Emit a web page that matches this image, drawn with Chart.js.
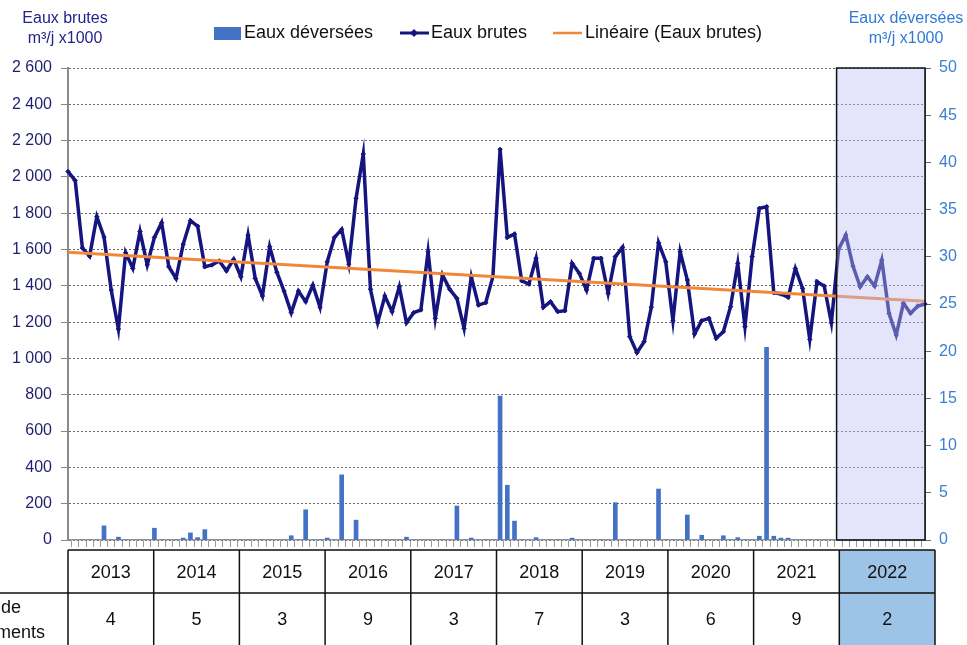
<!DOCTYPE html>
<html>
<head>
<meta charset="utf-8">
<script src="https://cdn.jsdelivr.net/npm/chart.js@4.4.1/dist/chart.umd.min.js"></script>
<style>
  html, body { margin: 0; padding: 0; background: #fff; }
  #wrap { width: 967px; height: 645px; position: relative; }
</style>
</head>
<body>
<div id="wrap"><canvas id="chart" width="967" height="645"></canvas></div>
<script>
// années du tableau + nombre de déversements par an
const years = ['2013', '2014', '2015', '2016', '2017', '2018', '2019', '2020', '2021', '2022'];
const nbDeversements = [4, 5, 3, 9, 3, 7, 3, 6, 9, 2];

// Eaux brutes, m3/j x1000 (un point par mois, jan 2013 -> dec 2022)
const eauxBrutes = [
  2030, 1980, 1608, 1564, 1781, 1669, 1377, 1162, 1583, 1496, 1700, 1515,
  1667, 1748, 1505, 1441, 1630, 1759, 1729, 1505, 1515, 1537, 1483, 1546,
  1450, 1680, 1441, 1344, 1616, 1475, 1371, 1252, 1371, 1313, 1404, 1282,
  1533, 1667, 1711, 1520, 1882, 2126, 1381, 1197, 1344, 1258, 1395, 1197,
  1252, 1267, 1588, 1221, 1460, 1381, 1331, 1166, 1450, 1294, 1307, 1450,
  2152, 1667, 1685, 1428, 1410, 1552, 1282, 1313, 1258, 1263, 1524, 1469,
  1377, 1552, 1552, 1359, 1561, 1612, 1120, 1032, 1092, 1282, 1638, 1533,
  1208, 1588, 1432, 1135, 1208, 1221, 1111, 1147, 1285, 1524, 1175, 1561,
  1827, 1836, 1362, 1355, 1337, 1496, 1386, 1105, 1423, 1399, 1197, 1601,
  1680, 1509, 1395, 1450, 1399, 1542, 1249, 1129, 1304, 1249, 1289, 1300
];

// Eaux déversées, m3/j x1000 (axe de droite)
const eauxDeversees = [
  0, 0, 0, 0, 0, 1.5, 0, 0.3, 0, 0, 0, 0,
  1.25, 0, 0, 0, 0.2, 0.75, 0.25, 1.1, 0, 0, 0, 0,
  0, 0, 0, 0, 0, 0, 0, 0.45, 0, 3.2, 0, 0,
  0.2, 0, 6.9, 0, 2.1, 0, 0, 0, 0, 0, 0, 0.3,
  0, 0, 0, 0, 0, 0, 3.6, 0, 0.2, 0, 0, 0,
  15.25, 5.8, 2.0, 0, 0, 0.25, 0, 0, 0, 0, 0.2, 0,
  0, 0, 0, 0, 3.95, 0, 0, 0, 0, 0, 5.4, 0,
  0, 0, 2.65, 0, 0.5, 0, 0, 0.45, 0, 0.25, 0, 0,
  0.4, 20.4, 0.4, 0.2, 0.2, 0, 0, 0, 0, 0, 0, 0,
  0, 0, 0, 0, 0, 0, 0, 0, 0, 0, 0, 0
];

// tendance linéaire (début / fin)
const trendStart = 1585;
const trendEnd = 1315;

const NAVY = '#15157f';
const BLUE_BAR = '#4472c4';
const ORANGE = '#f0883a';
const FONT = '"Liberation Sans", Arial, sans-serif';

const labels = [];
years.forEach(y => {
  for (let m = 1; m <= 12; m++) labels.push(y + '-' + String(m).padStart(2, '0'));
});
const trend = labels.map((_, i) => i === 0 ? trendStart : (i === labels.length - 1 ? trendEnd : null));

function fmtThousands(v) {
  if (v >= 1000) return Math.floor(v / 1000) + ' ' + String(v % 1000).padStart(3, '0');
  return String(v);
}

// cadre 2022, titres, légende et tableau du bas
const decor = {
  id: 'decor',
  afterDatasetsDraw(chart) {
    const { ctx, chartArea: a, scales: { x } } = chart;
    const x0 = x.getPixelForValue(107) - 2;
    ctx.save();
    ctx.fillStyle = 'rgba(190,190,245,0.42)';
    ctx.fillRect(x0, a.top, a.right - x0, a.bottom - a.top);
    ctx.strokeStyle = '#111';
    ctx.lineWidth = 1.5;
    ctx.strokeRect(x0, a.top, a.right - x0, a.bottom - a.top);
    ctx.restore();
  },
  afterDraw(chart) {
    const { ctx, chartArea: a } = chart;
    ctx.save();
    ctx.textBaseline = 'middle';

    // titres des axes
    ctx.font = '16px ' + FONT;
    ctx.textAlign = 'center';
    ctx.fillStyle = '#24248a';
    ctx.fillText('Eaux brutes', 65, 19);
    ctx.fillText('m³/j x1000', 65, 39);
    ctx.fillStyle = '#2f7bd4';
    ctx.fillText('Eaux déversées', 906, 19);
    ctx.fillText('m³/j x1000', 906, 39);

    // légende
    ctx.font = '18px ' + FONT;
    ctx.textAlign = 'left';
    ctx.fillStyle = BLUE_BAR;
    ctx.fillRect(214, 27, 27, 13);
    ctx.fillStyle = '#111';
    ctx.fillText('Eaux déversées', 244, 33);
    ctx.strokeStyle = NAVY;
    ctx.lineWidth = 3;
    ctx.beginPath(); ctx.moveTo(400, 33); ctx.lineTo(429, 33); ctx.stroke();
    ctx.fillStyle = NAVY;
    ctx.beginPath(); ctx.moveTo(414, 29); ctx.lineTo(418, 33); ctx.lineTo(414, 37); ctx.lineTo(410, 33); ctx.fill();
    ctx.fillStyle = '#111';
    ctx.fillText('Eaux brutes', 431, 33);
    ctx.strokeStyle = ORANGE;
    ctx.lineWidth = 2.5;
    ctx.beginPath(); ctx.moveTo(553, 33); ctx.lineTo(582, 33); ctx.stroke();
    ctx.fillText('Linéaire (Eaux brutes)', 585, 33);

    // tableau des années
    const top = 550, mid = 593, bot = 660;
    const colW = (a.right - a.left) / years.length;
    const last = years.length - 1;
    const edges = years.map((_, i) => a.left + i * colW);
    edges.push(a.right + 10);

    ctx.fillStyle = '#9dc3e6';
    ctx.fillRect(edges[last], top, edges[last + 1] - edges[last], bot - top);

    ctx.font = '18px ' + FONT;
    ctx.textAlign = 'center';
    ctx.fillStyle = '#111';
    years.forEach((y, i) => {
      const cx = (edges[i] + edges[i + 1]) / 2;
      ctx.fillText(y, cx, 573);
      ctx.fillText(String(nbDeversements[i]), cx, 620);
    });
    ctx.textAlign = 'left';
    ctx.fillText('Nombre de', -68, 608);
    ctx.fillText('déversements', -68, 633);

    ctx.strokeStyle = '#111';
    ctx.lineWidth = 1.5;
    ctx.beginPath();
    ctx.moveTo(a.left, top); ctx.lineTo(edges[last + 1], top);
    ctx.moveTo(0, mid); ctx.lineTo(edges[last + 1], mid);
    edges.forEach(e => { ctx.moveTo(e, top); ctx.lineTo(e, bot); });
    ctx.stroke();
    ctx.restore();
  }
};

new Chart(document.getElementById('chart'), {
  data: {
    labels: labels,
    datasets: [
      {
        type: 'line',
        label: 'Linéaire (Eaux brutes)',
        data: trend,
        yAxisID: 'y',
        borderColor: ORANGE,
        borderWidth: 3,
        pointRadius: 0,
        spanGaps: true,
        order: 1
      },
      {
        type: 'line',
        label: 'Eaux brutes',
        data: eauxBrutes,
        yAxisID: 'y',
        borderColor: NAVY,
        backgroundColor: NAVY,
        borderWidth: 3.5,
        pointStyle: 'rectRot',
        pointRadius: 2.2,
        pointBorderWidth: 1,
        tension: 0,
        order: 2
      },
      {
        type: 'bar',
        label: 'Eaux déversées',
        data: eauxDeversees,
        yAxisID: 'y2',
        backgroundColor: BLUE_BAR,
        barThickness: 4,
        order: 3
      }
    ]
  },
  options: {
    responsive: false,
    animation: false,
    layout: { padding: { top: 68, left: 0, right: 0, bottom: 0 } },
    plugins: { legend: { display: false }, tooltip: { enabled: false } },
    scales: {
      x: {
        offset: false,
        ticks: { display: false, autoSkip: false },
        grid: { drawOnChartArea: false, drawTicks: true, tickLength: 7, color: '#9a9a9a', lineWidth: 1 },
        border: { color: '#9a9a9a', width: 1.5 },
        afterFit(s) { s.height = 105; }
      },
      y: {
        position: 'left',
        min: 0,
        max: 2600,
        ticks: {
          stepSize: 200,
          color: '#1f1f6e',
          font: { size: 16, family: FONT },
          padding: 9,
          callback: v => fmtThousands(v)
        },
        grid: { color: '#666', tickLength: 7, tickBorderDash: [], tickColor: '#888' },
        border: { color: '#8a8a8a', width: 2, dash: [2, 2] },
        afterFit(s) { s.width = 68; }
      },
      y2: {
        position: 'right',
        min: 0,
        max: 50,
        ticks: {
          stepSize: 5,
          color: '#3a7fd0',
          font: { size: 16, family: FONT },
          padding: 8
        },
        grid: { drawOnChartArea: false, tickLength: 6, color: '#666' },
        border: { color: '#666', width: 1 },
        afterFit(s) { s.width = 42; }
      }
    }
  },
  plugins: [decor]
});
</script>
</body>
</html>
